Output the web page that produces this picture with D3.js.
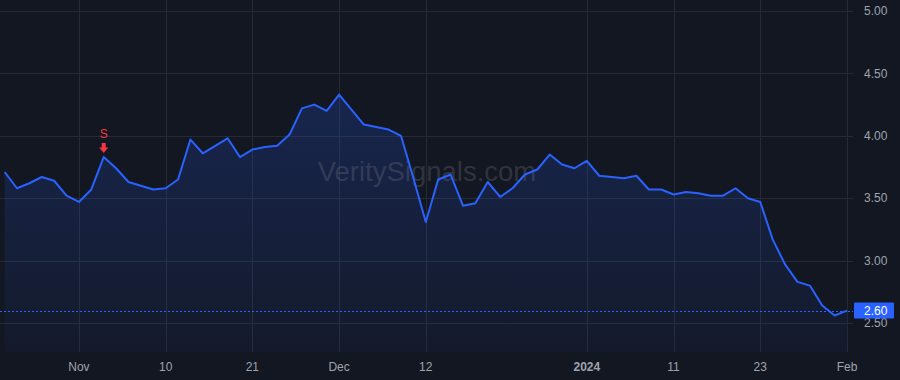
<!DOCTYPE html>
<html>
<head>
<meta charset="utf-8">
<script src="https://cdn.jsdelivr.net/npm/d3@7"></script>
<style>
  html, body { margin: 0; padding: 0; background: #131722; }
  svg { display: block; }
</style>
</head>
<body>
<div id="chart"></div>
<script>
// trading days, Oct 24 2023 -> Feb 1 2024
const dates = [
  "2023-10-24","2023-10-25","2023-10-26","2023-10-27","2023-10-30","2023-10-31",
  "2023-11-01","2023-11-02","2023-11-03","2023-11-06","2023-11-07","2023-11-08","2023-11-09","2023-11-10",
  "2023-11-13","2023-11-14","2023-11-15","2023-11-16","2023-11-17","2023-11-20","2023-11-21",
  "2023-11-22","2023-11-24","2023-11-27","2023-11-28","2023-11-29","2023-11-30","2023-12-01",
  "2023-12-04","2023-12-05","2023-12-06","2023-12-07","2023-12-08","2023-12-11","2023-12-12",
  "2023-12-13","2023-12-14","2023-12-15","2023-12-18","2023-12-19","2023-12-20","2023-12-21",
  "2023-12-22","2023-12-26","2023-12-27","2023-12-28","2023-12-29","2024-01-02",
  "2024-01-03","2024-01-04","2024-01-05","2024-01-08","2024-01-09","2024-01-10","2024-01-11",
  "2024-01-12","2024-01-16","2024-01-17","2024-01-18","2024-01-19","2024-01-22","2024-01-23",
  "2024-01-24","2024-01-25","2024-01-26","2024-01-29","2024-01-30","2024-01-31","2024-02-01"
];

const prices = [
  3.71, 3.58, 3.62, 3.67, 3.64, 3.52,
  3.47, 3.57, 3.83, 3.74, 3.63, 3.60, 3.57, 3.58,
  3.65, 3.97, 3.86, 3.92, 3.98, 3.83, 3.89,
  3.91, 3.92, 4.01, 4.22, 4.25, 4.20, 4.33,
  4.21, 4.09, 4.07, 4.05, 4.00, 3.66, 3.31,
  3.65, 3.69, 3.44, 3.46, 3.63, 3.51, 3.58,
  3.69, 3.73, 3.85, 3.77, 3.74, 3.80,
  3.68, 3.67, 3.66, 3.68, 3.57, 3.57, 3.53,
  3.55, 3.54, 3.52, 3.52, 3.58, 3.50, 3.47,
  3.17, 2.97, 2.83, 2.80, 2.64, 2.56, 2.60
];

const tickDates  = ["2023-11-01","2023-11-10","2023-11-21","2023-12-01","2023-12-12","2024-01-02","2024-01-11","2024-01-23","2024-02-01"];
const tickLabels = ["Nov","10","21","Dec","12","2024","11","23","Feb"];
const boldTicks  = ["2024"];

const yTicks = [2.5, 3.0, 3.5, 4.0, 4.5, 5.0];

const signalDates  = ["2023-11-03"];
const signalLabels = ["S"];

const lastPrice = 2.60;

const width = 900, height = 380;
const plot = {left: 0, right: 853, top: 0, bottom: 352};

const svg = d3.select("#chart").append("svg")
    .attr("width", width)
    .attr("height", height)
    .style("font-family", "'Liberation Sans', Arial, sans-serif");

svg.append("rect").attr("width", width).attr("height", height).attr("fill", "#131722");

const x = d3.scalePoint()
  .domain(dates)
  .range([4.6, 847]);

const y = d3.scaleLinear()
  .domain([2.268, 5.088])
  .range([plot.bottom, plot.top]);

const data = dates.map((d, i) => ({date: d, value: prices[i]}));

// grid
svg.append("g")
  .selectAll("line")
  .data(yTicks)
  .join("line")
    .attr("x1", plot.left).attr("x2", plot.right)
    .attr("y1", d => Math.round(y(d)) + 0.5).attr("y2", d => Math.round(y(d)) + 0.5)
    .attr("stroke", "#262a35").attr("stroke-width", 1);

svg.append("g")
  .selectAll("line")
  .data(tickDates)
  .join("line")
    .attr("x1", d => Math.round(x(d)) + 0.5).attr("x2", d => Math.round(x(d)) + 0.5)
    .attr("y1", plot.top).attr("y2", plot.bottom)
    .attr("stroke", "#262a35").attr("stroke-width", 1);

// area gradient
const defs = svg.append("defs");
const grad = defs.append("linearGradient")
    .attr("id", "areaFill")
    .attr("gradientUnits", "userSpaceOnUse")
    .attr("x1", 0).attr("x2", 0)
    .attr("y1", y(d3.max(prices))).attr("y2", plot.bottom);
grad.append("stop").attr("offset", 0).attr("stop-color", "#2962ff").attr("stop-opacity", 0.2);
grad.append("stop").attr("offset", 1).attr("stop-color", "#2962ff").attr("stop-opacity", 0.04);

const area = d3.area()
  .x(d => x(d.date))
  .y0(plot.bottom)
  .y1(d => y(d.value));

svg.append("path")
  .datum(data)
  .attr("d", area)
  .attr("fill", "url(#areaFill)");

// watermark
svg.append("text")
  .attr("x", 427)
  .attr("y", 181)
  .attr("text-anchor", "middle")
  .attr("font-size", 27.5)
  .attr("fill", "#787b86")
  .attr("fill-opacity", 0.3)
  .text("VeritySignals.com");

// price line (dashed)
svg.append("line")
  .attr("x1", 0).attr("x2", plot.right)
  .attr("y1", Math.round(y(lastPrice)) + 0.5).attr("y2", Math.round(y(lastPrice)) + 0.5)
  .attr("stroke", "#2962ff")
  .attr("stroke-width", 1)
  .attr("stroke-dasharray", "2,2");

// main line
const line = d3.line()
  .x(d => x(d.date))
  .y(d => y(d.value));

svg.append("path")
  .datum(data)
  .attr("d", line)
  .attr("fill", "none")
  .attr("stroke", "#2962ff")
  .attr("stroke-width", 2)
  .attr("stroke-linejoin", "round");

// sell signal markers
signalDates.forEach((sd, i) => {
  const sx = x(sd);
  const sy = y(prices[dates.indexOf(sd)]);
  const g = svg.append("g").attr("transform", `translate(${sx},${sy})`);
  g.append("path")
    .attr("d", "M-2,-14 L2,-14 L2,-9.5 L4.6,-9.5 L0,-4 L-4.6,-9.5 L-2,-9.5 Z")
    .attr("fill", "#f23645");
  g.append("text")
    .attr("y", -19)
    .attr("text-anchor", "middle")
    .attr("font-size", 12)
    .attr("fill", "#f23645")
    .text(signalLabels[i]);
});

// y axis labels (right)
svg.append("g")
  .selectAll("text")
  .data(yTicks)
  .join("text")
    .attr("x", 864)
    .attr("y", d => y(d))
    .attr("dy", "0.35em")
    .attr("font-size", 12)
    .attr("fill", "#9fa3ad")
    .text(d => d3.format(".2f")(d));

// x axis labels
svg.append("g")
  .selectAll("text")
  .data(tickDates)
  .join("text")
    .attr("x", d => x(d))
    .attr("y", 367)
    .attr("dy", "0.35em")
    .attr("text-anchor", "middle")
    .attr("font-size", 12)
    .attr("font-weight", (d, i) => boldTicks.includes(tickLabels[i]) ? "bold" : "normal")
    .attr("fill", "#9fa3ad")
    .text((d, i) => tickLabels[i]);

// last price tag
const tagY = y(lastPrice);
svg.append("rect")
  .attr("x", 854)
  .attr("y", tagY - 8)
  .attr("width", 40)
  .attr("height", 16)
  .attr("rx", 1)
  .attr("fill", "#2962ff");
svg.append("text")
  .attr("x", 864)
  .attr("y", tagY)
  .attr("dy", "0.35em")
  .attr("font-size", 12)
  .attr("fill", "#ffffff")
  .text(d3.format(".2f")(lastPrice));
</script>
</body>
</html>
